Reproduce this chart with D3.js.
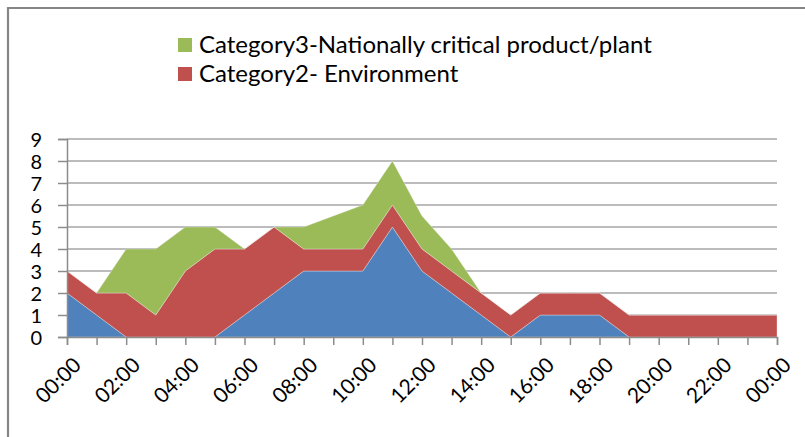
<!DOCTYPE html>
<html>
<head>
<meta charset="utf-8">
<script src="https://cdn.jsdelivr.net/npm/d3@7"></script>
<style>
  body { margin: 0; background: #fff; }
  svg { display: block; font-family: "Lato", "Open Sans", sans-serif; }
</style>
</head>
<body>
<svg id="graph"></svg>
<script>
var width = 805, height = 437;

// hourly slots, 00:00 .. 00:00 (next day)
var hours = d3.range(0, 25);
var tickLabels = ["00:00","02:00","04:00","06:00","08:00","10:00","12:00","14:00","16:00","18:00","20:00","22:00","00:00"];

var category1 = [2,1,0,0,0,0,1,2,3,3,3,5,3,2,1,0,1,1,1,0,0,0,0,0,0];
var category2 = [1,1,2,1,3,4,3,3,1,1,1,1,1,1,1,1,1,1,1,1,1,1,1,1,1];
var category3 = [0,0,2,3,2,1,0,0,1,1.5,2,2,1.5,1,0,0,0,0,0,0,0,0,0,0,0];

var keys = ["Category1", "Category2- Environment", "Category3-Nationally critical product/plant"];
var color = ["#4F81BD", "#C0504D", "#9BBB59"];

var rows = hours.map(function (h, i) {
	var r = { hour: h };
	r[keys[0]] = category1[i];
	r[keys[1]] = category2[i];
	r[keys[2]] = category3[i];
	return r;
});

var svg = d3.select("#graph")
	.attr("width", width)
	.attr("height", height);

// outer frame (only top and left edges visible)
svg.append("path")
	.attr("d", "M8,437V8H805")
	.attr("fill", "none")
	.attr("stroke", "#868686")
	.attr("stroke-width", 2.2);

var x = d3.scaleLinear().domain([0, 24]).range([67, 777]);
var y = d3.scaleLinear().domain([0, 9]).range([337, 139]);

// gridlines
svg.append("g")
	.selectAll("line")
	.data(d3.range(1, 10))
	.enter()
	.append("line")
	.attr("x1", x(0))
	.attr("x2", x(24))
	.attr("y1", d => y(d))
	.attr("y2", d => y(d))
	.attr("stroke", "#a6a6a6")
	.attr("stroke-width", 1.5);

var stack = d3.stack().keys(keys);
var series = stack(rows);

var area = d3.area()
	.x(d => x(d.data.hour))
	.y0(d => y(d[0]))
	.y1(d => y(d[1]));

svg.append("g")
	.selectAll("path")
	.data(series)
	.enter()
	.append("path")
	.attr("d", area)
	.attr("fill", (d, i) => color[i])
	.attr("stroke", "#eeeeee")
	.attr("stroke-width", 0.6)
	.attr("stroke-opacity", 0.6);

// y axis
var yAxis = svg.append("g")
	.attr("transform", "translate(" + x(0) + ",0)")
	.call(d3.axisLeft(y).ticks(9).tickSize(9).tickPadding(16));
yAxis.select(".domain").attr("stroke", "#8c8c8c").attr("stroke-width", 1.5);
yAxis.selectAll(".tick line").attr("stroke", "#8c8c8c").attr("stroke-width", 1.5);
yAxis.selectAll("text")
	.attr("font-family", "Lato, sans-serif")
	.attr("font-size", "20px")
	.attr("fill", "#000")
	.attr("dy", "0.36em");

// x axis
var xAxis = svg.append("g")
	.attr("transform", "translate(0," + y(0) + ")")
	.call(d3.axisBottom(x).tickValues(hours).tickSize(8).tickFormat(""));
xAxis.select(".domain").attr("stroke", "#8c8c8c").attr("stroke-width", 1.5);
xAxis.selectAll(".tick line").attr("stroke", "#8c8c8c").attr("stroke-width", 1.5);

svg.append("g")
	.selectAll("text")
	.data(tickLabels)
	.enter()
	.append("text")
	.attr("transform", (d, i) => "translate(" + (x(i * 2) + 5) + "," + (y(0) + 19) + ") rotate(-45)")
	.attr("text-anchor", "end")
	.attr("dy", "0.7em")
	.attr("font-size", "21px")
	.attr("fill", "#000")
	.text(d => d);

// legend (only categories 3 and 2)
var legendItems = [2, 1];
var legend = svg.append("g")
	.selectAll("g")
	.data(legendItems)
	.enter()
	.append("g")
	.attr("transform", (d, i) => "translate(178," + (38 + i * 29) + ")");
legend.append("rect")
	.attr("width", 14)
	.attr("height", 14)
	.attr("fill", d => color[d]);
legend.append("text")
	.attr("x", 21)
	.attr("y", 7)
	.attr("dy", "0.35em")
	.attr("font-size", "24px")
	.attr("fill", "#000")
	.text(d => keys[d]);
</script>
</body>
</html>
